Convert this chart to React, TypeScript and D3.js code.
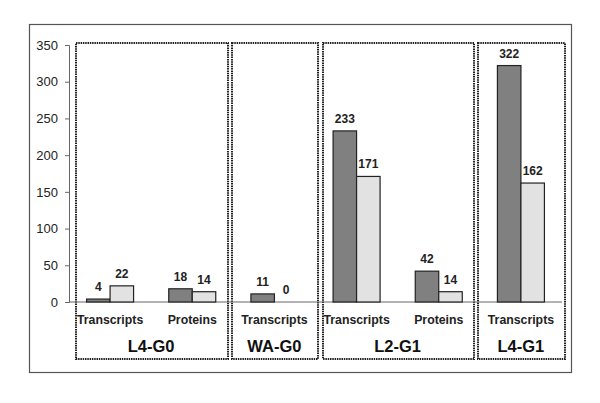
import React, { useEffect, useRef } from "react";
import * as d3 from "d3";

const categories = ["L4-G0 Transcripts", "L4-G0 Proteins", "WA-G0 Transcripts", "L2-G1 Transcripts", "L2-G1 Proteins", "L4-G1 Transcripts"];
const catLabels = ["Transcripts", "Proteins", "Transcripts", "Transcripts", "Proteins", "Transcripts"];
const seriesA = [4, 18, 11, 233, 42, 322];
const seriesB = [22, 14, 0, 171, 14, 162];
const groups = ["L4-G0", "WA-G0", "L2-G1", "L4-G1"];
const groupStart = [0, 2, 3, 5];
const groupEnd = [1, 2, 4, 5];
const yTicks = [0, 50, 100, 150, 200, 250, 300, 350];

export default function App() {
  const ref = useRef<SVGSVGElement>(null);
  useEffect(() => {
    const svg = d3.select(ref.current);
    svg.selectAll("*").remove();
    const W = 600, H = 403;
    svg.append("rect").attr("x", 0).attr("y", 0).attr("width", W).attr("height", H).attr("fill", "#fff");
    svg.append("rect").attr("x", 29.5).attr("y", 24.5).attr("width", 542).attr("height", 348)
      .attr("fill", "#fff").attr("stroke", "#555").attr("stroke-width", 1.2);

    const x0 = 69, x1 = 562;
    const y = d3.scaleLinear().domain([0, 350]).range([302, 45]);
    const x = d3.scaleBand().domain(categories).range([x0, x1]);
    const bw = x.bandwidth() * 0.286;

    const font = "Liberation Sans, Arial, sans-serif";

    // dotted group boxes
    const bx = [76, 232, 323, 478];
    const bxe = [228, 318, 474, 565];
    groups.forEach((g, i) => {
      svg.append("rect").attr("x", bx[i]).attr("y", 43).attr("width", bxe[i] - bx[i]).attr("height", 316)
        .attr("fill", "none").attr("stroke", "#222").attr("stroke-width", 2).attr("stroke-dasharray", "1.5,0.8");
      const cx = ((x(categories[groupStart[i]]) as number) + (x(categories[groupEnd[i]]) as number) + x.bandwidth()) / 2;
      svg.append("text").attr("x", cx).attr("y", 352).attr("text-anchor", "middle")
        .attr("font-family", font).attr("font-weight", "bold").attr("font-size", 16.5).attr("fill", "#111").text(g);
    });

    // axis
    const ax = svg.append("g").attr("transform", `translate(${x0},0)`)
      .call(d3.axisLeft(y).tickValues(yTicks).tickSize(4).tickPadding(7));
    ax.select(".domain").attr("stroke", "#666");
    ax.selectAll(".tick line").attr("stroke", "#666");
    ax.selectAll(".tick text").attr("font-family", font).attr("font-size", 13).attr("fill", "#222");

    svg.append("line").attr("x1", x0).attr("x2", x1).attr("y1", y(0)).attr("y2", y(0)).attr("stroke", "#666");

    categories.forEach((c, i) => {
      const cx = (x(c) as number) + x.bandwidth() / 2;
      const vals = [seriesA[i], seriesB[i]];
      const fills = ["#808080", "#e2e2e2"];
      vals.forEach((v, j) => {
        const bxp = j === 0 ? cx - bw : cx;
        if (v > 0) {
          svg.append("rect").attr("x", bxp).attr("y", y(v)).attr("width", bw).attr("height", y(0) - y(v))
            .attr("fill", fills[j]).attr("stroke", "#222").attr("stroke-width", 1.2);
        }
        svg.append("text").attr("x", bxp + bw / 2).attr("y", y(v) - 8).attr("text-anchor", "middle")
          .attr("font-family", font).attr("font-weight", "bold").attr("font-size", 12).attr("fill", "#222").text(v);
      });
      svg.append("text").attr("x", cx).attr("y", 323.5).attr("text-anchor", "middle")
        .attr("font-family", font).attr("font-weight", "bold").attr("font-size", 12.3).attr("fill", "#222").text(catLabels[i]);
    });
  }, []);
  return <svg ref={ref} width={600} height={403} style={{ position: "absolute", left: 0, top: 0 }} />;
}
